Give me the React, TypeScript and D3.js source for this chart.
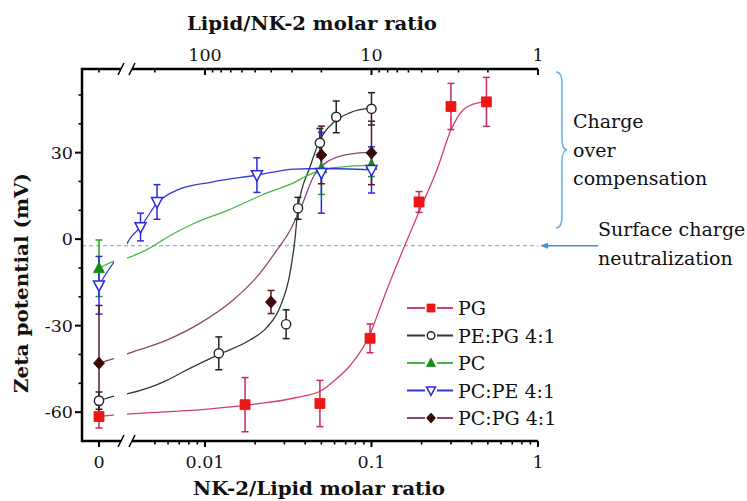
import React from "react";
import * as d3 from "d3";

// ---------- data ----------
const seriesNames = ["PG", "PE:PG 4:1", "PC", "PC:PE 4:1", "PC:PG 4:1"];

const pgX = [0, 0.0174, 0.049, 0.098, 0.193, 0.3, 0.49];
const pgY = [-61.5, -57.4, -57, -34.4, 12.9, 46, 47.6];
const pgErr = [4, 9.4, 8, 5, 3.6, 8, 8.5];

const pepgX = [0, 0.0121, 0.0307, 0.0362, 0.049, 0.0614, 0.1];
const pepgY = [-56, -39.6, -29.5, 10.7, 33.4, 42.4, 45.2];
const pepgErr = [3, 5.7, 5, 3.8, 5, 5.5, 5.6];

const pcX = [0, 0.05, 0.1];
const pcY = [-10.1, 24.5, 25.7];
const pcErr = [9.8, 9, 4];

const pcpeX = [0, 0.0041, 0.00515, 0.0205, 0.05, 0.1];
const pcpeY = [-16, 4.2, 12.9, 22.2, 23, 24];
const pcpeErr = [10, 4.8, 6, 6, 14, 8];

const pcpgX = [0, 0.0249, 0.05, 0.1];
const pcpgY = [-43, -21.8, 29.2, 29.9];
const pcpgErr = [20, 4, 10, 11];

// fitted guide curves (knots)
const pgFitX = [0, 0.0028, 0.0035, 0.01, 0.02, 0.035, 0.05, 0.06, 0.074, 0.098, 0.113, 0.135, 0.159, 0.193, 0.247, 0.304, 0.355, 0.43, 0.487];
const pgFitY = [-61.5, -61, -60.6, -59, -57.2, -55, -52.5, -49, -44, -33, -23.5, -12, -2, 9.5, 24, 38.6, 44.8, 47.2, 47.6];

const pepgFitX = [0, 0.0028, 0.0035, 0.0059, 0.0074, 0.0121, 0.0186, 0.0236, 0.0282, 0.0324, 0.0347, 0.0362, 0.0427, 0.049, 0.0587, 0.074, 0.1];
const pepgFitY = [-56, -54.5, -53.5, -49, -46, -40, -35, -30.5, -23.6, -11.8, 0, 10.7, 25, 34.4, 40.3, 43.8, 45.5];

const pcFitX = [0, 0.0028, 0.0035, 0.0049, 0.0055, 0.0087, 0.0137, 0.022, 0.0347, 0.041, 0.0505, 0.0647, 0.1];
const pcFitY = [-10.1, -7.8, -6.3, -2.4, -0.5, 5.6, 10, 15.3, 19.8, 22, 24, 25, 25.7];

const pcpeFitX = [0, 0.0028, 0.0031, 0.00355, 0.0041, 0.00515, 0.0069, 0.011, 0.0205, 0.0347, 0.051, 0.1];
const pcpeFitY = [-16, -8.5, -5.6, 0.3, 4.2, 12.5, 17.2, 19.8, 22.2, 24.3, 24.5, 24];

const pcpgFitX = [0, 0.0028, 0.0035, 0.0059, 0.0093, 0.0147, 0.0214, 0.027, 0.0324, 0.0383, 0.0451, 0.0548, 0.074, 0.1];
const pcpgFitY = [-43, -41.5, -39.5, -35, -29.2, -21.2, -11.8, -3.8, 3, 12, 22, 27, 29.5, 30.2];

const bottomMajor = [0.01, 0.1, 1];
const bottomMajorLabels = ["0.01", "0.1", "1"];
const bottomMinor = [0.005, 0.006, 0.007, 0.008, 0.009, 0.02, 0.03, 0.04, 0.05, 0.06, 0.07, 0.08, 0.09, 0.2, 0.3, 0.4, 0.5, 0.6, 0.7, 0.8, 0.9];
const topMajor = [100, 10, 1];
const topMajorLabels = ["100", "10", "1"];
const topMinor = [200, 90, 80, 70, 60, 50, 40, 30, 20, 9, 8, 7, 6, 5, 4, 3, 2];
const yMajor = [-60, -30, 0, 30];
const yMinor = [-50, -40, -20, -10, 10, 20, 40, 50];
const neutralLevel = -2.3;

// ---------- layout ----------
const W = 747, H = 501;
const left = 82, right = 538, top = 69, bottom = 441;
const zeroX = 99;
const gapL = 114, gapR = 127;

const xLog = d3.scaleLog().domain([0.01, 1]).range([205, right]);
const xTop = d3.scaleLog().domain([100, 1]).range([205, right]);
const y = d3.scaleLinear().domain([-70, 59]).range([bottom, top]);
const xp = (v: number) => (v === 0 ? zeroX : xLog(v));

const serif = "'DejaVu Serif', serif";

type Marker = "square" | "circle" | "triUp" | "triDown" | "diamond";

interface Series {
  name: string;
  xs: number[]; ys: number[]; err: number[];
  fx: number[]; fy: number[];
  line: string; errColor: string; marker: Marker; mFill: string; mStroke: string;
}

const series: Series[] = [
  { name: seriesNames[0], xs: pgX, ys: pgY, err: pgErr, fx: pgFitX, fy: pgFitY, line: "#d24068", errColor: "#c8285a", marker: "square", mFill: "#ee1515", mStroke: "#ee1515" },
  { name: seriesNames[1], xs: pepgX, ys: pepgY, err: pepgErr, fx: pepgFitX, fy: pepgFitY, line: "#2b3d34", errColor: "#222222", marker: "circle", mFill: "#ffffff", mStroke: "#222222" },
  { name: seriesNames[2], xs: pcX, ys: pcY, err: pcErr, fx: pcFitX, fy: pcFitY, line: "#45b845", errColor: "#22a022", marker: "triUp", mFill: "#158a15", mStroke: "#158a15" },
  { name: seriesNames[3], xs: pcpeX, ys: pcpeY, err: pcpeErr, fx: pcpeFitX, fy: pcpeFitY, line: "#3535e0", errColor: "#2a2ae0", marker: "triDown", mFill: "#ffffff", mStroke: "#2a2ae0" },
  { name: seriesNames[4], xs: pcpgX, ys: pcpgY, err: pcpgErr, fx: pcpgFitX, fy: pcpgFitY, line: "#8c4672", errColor: "#5a1a2c", marker: "diamond", mFill: "#3a0808", mStroke: "#3a0808" },
];

function markerPath(m: Marker, s: number): string {
  const h = s / 2;
  switch (m) {
    case "square": return `M${-h},${-h}H${h}V${h}H${-h}Z`;
    case "triUp": return `M0,${-h * 1.1}L${h},${h * 0.8}L${-h},${h * 0.8}Z`;
    case "triDown": return `M0,${h * 1.1}L${h},${-h * 0.8}L${-h},${-h * 0.8}Z`;
    case "diamond": return `M0,${-h * 1.1}L${h},0L0,${h * 1.1}L${-h},0Z`;
    default: return "";
  }
}

function MarkerShape({ m, x, yy, s, fill, stroke }: { m: Marker; x: number; yy: number; s: number; fill: string; stroke: string }) {
  if (m === "circle") {
    return <circle cx={x} cy={yy} r={s * 0.42} fill={fill} stroke={stroke} strokeWidth={1.4} />;
  }
  return <path d={markerPath(m, s)} transform={`translate(${x},${yy})`} fill={fill} stroke={stroke} strokeWidth={m === "triDown" ? 1.5 : 0.8} strokeLinejoin="miter" />;
}

export default function App() {
  const line = d3.line<[number, number]>().x((d) => xp(d[0])).y((d) => y(d[1])).curve(d3.curveMonotoneX);

  return (
    <svg width={W} height={H} style={{ display: "block", position: "absolute", left: 0, top: 0, background: "#fff" }} fontFamily={serif}>
      <defs>
        <clipPath id="gapclip">
          <rect x={left} y={0} width={gapL - left} height={H} />
          <rect x={gapR} y={0} width={W - gapR} height={H} />
        </clipPath>
      </defs>
      <rect x={0} y={0} width={W} height={H} fill="#fff" />

      {/* neutralization line */}
      <line x1={left} x2={right} y1={y(neutralLevel)} y2={y(neutralLevel)} stroke="#55aee6" strokeWidth={1} strokeDasharray="4,3" />

      {/* fit curves */}
      <g clipPath="url(#gapclip)" fill="none">
        {series.map((s) => (
          <path key={s.name} d={line(s.fx.map((v, i) => [v, s.fy[i]] as [number, number])) || ""} stroke={s.line} strokeWidth={1.3} />
        ))}
      </g>

      {/* error bars */}
      {series.map((s) => (
        <g key={s.name + "e"} stroke={s.errColor} strokeWidth={1.5}>
          {s.xs.map((v, i) => {
            const cx = xp(v);
            const y1 = y(s.ys[i] + s.err[i]);
            const y2 = y(s.ys[i] - s.err[i]);
            return (
              <g key={i}>
                <line x1={cx} x2={cx} y1={y1} y2={Math.min(y2, bottom)} />
                <line x1={cx - 3.5} x2={cx + 3.5} y1={y1} y2={y1} />
                {y2 < bottom && <line x1={cx - 3.5} x2={cx + 3.5} y1={y2} y2={y2} />}
              </g>
            );
          })}
        </g>
      ))}

      {/* markers */}
      {series.map((s) => (
        <g key={s.name + "m"}>
          {s.xs.map((v, i) => (
            <MarkerShape key={i} m={s.marker} x={xp(v)} yy={y(s.ys[i])} s={s.marker === "square" ? 10 : 11} fill={s.mFill} stroke={s.mStroke} />
          ))}
        </g>
      ))}

      {/* axes frame */}
      <g stroke="#000" fill="none">
        <line x1={left} x2={left} y1={top - 1.2} y2={bottom + 1.2} strokeWidth={2.5} />
        <line x1={left} x2={gapL + 7} y1={top} y2={top} strokeWidth={2.5} />
        <line x1={gapR + 5} x2={right} y1={top} y2={top} strokeWidth={2.5} />
        <line x1={left} x2={gapL + 7} y1={bottom} y2={bottom} strokeWidth={2.5} />
        <line x1={gapR + 5} x2={right} y1={bottom} y2={bottom} strokeWidth={2.5} />
        {/* break marks */}
        {[top, bottom].map((yy) => (
          <g key={yy} strokeWidth={1.6}>
            <line x1={gapL + 4} y1={yy + 6} x2={gapL + 10} y2={yy - 6} />
            <line x1={gapR + 2} y1={yy + 6} x2={gapR + 8} y2={yy - 6} />
          </g>
        ))}
        {/* bottom ticks */}
        <line x1={zeroX} x2={zeroX} y1={bottom} y2={bottom + 6} strokeWidth={2} />
        {bottomMajor.map((v) => (
          <line key={v} x1={xLog(v)} x2={xLog(v)} y1={bottom} y2={bottom + 6} strokeWidth={2} />
        ))}
        {bottomMinor.map((v) => (
          <line key={v} x1={xLog(v)} x2={xLog(v)} y1={bottom} y2={bottom + 3.5} strokeWidth={1.6} />
        ))}
        {/* top ticks */}
        <line x1={zeroX} x2={zeroX} y1={top} y2={top + 3.5} strokeWidth={1.6} />
        {topMajor.map((v) => (
          <line key={v} x1={xTop(v)} x2={xTop(v)} y1={top} y2={top + 6} strokeWidth={2} />
        ))}
        {topMinor.map((v) => (
          <line key={v} x1={xTop(v)} x2={xTop(v)} y1={top} y2={top + 3.5} strokeWidth={1.6} />
        ))}
        {/* y ticks */}
        {yMajor.map((v) => (
          <line key={v} x1={left - 7} x2={left} y1={y(v)} y2={y(v)} strokeWidth={2} />
        ))}
        {yMinor.map((v) => (
          <line key={v} x1={left - 3.5} x2={left} y1={y(v)} y2={y(v)} strokeWidth={1.6} />
        ))}
      </g>

      {/* tick labels */}
      <g fontSize={17.5} fill="#111" textAnchor="middle">
        <text x={zeroX} y={468}>0</text>
        {bottomMajor.map((v, i) => (
          <text key={v} x={xLog(v)} y={468}>{bottomMajorLabels[i]}</text>
        ))}
        {topMajor.map((v, i) => (
          <text key={v} x={xTop(v)} y={61}>{topMajorLabels[i]}</text>
        ))}
        {yMajor.map((v) => (
          <text key={v} x={73} y={y(v) + 6} textAnchor="end">{v === 0 ? "0" : String(v)}</text>
        ))}
      </g>

      {/* axis titles */}
      <g fontWeight="bold" fontSize={18.5} fill="#111" textAnchor="middle">
        <text x={312} y={30} textLength={250} lengthAdjust="spacingAndGlyphs">Lipid/NK-2 molar ratio</text>
        <text x={319} y={495} textLength={252} lengthAdjust="spacingAndGlyphs">NK-2/Lipid molar ratio</text>
        <text transform={`translate(28,283) rotate(-90)`} textLength={220} lengthAdjust="spacingAndGlyphs">Zeta potential (mV)</text>
      </g>

      {/* annotations */}
      <path d="M556,72 Q562,72 562,84 L562,138 Q562,150 567,150 Q562,150 562,162 L562,216 Q562,228 556,228" fill="none" stroke="#72b4ea" strokeWidth={1.6} />
      <g fontSize={19} fill="#111">
        <text x={573} y={128}>Charge</text>
        <text x={573} y={157}>over</text>
        <text x={573} y={185}>compensation</text>
        <text x={598} y={236}>Surface charge</text>
        <text x={598} y={265}>neutralization</text>
      </g>
      <line x1={598} x2={546} y1={y(neutralLevel)} y2={y(neutralLevel)} stroke="#3d8fe0" strokeWidth={1.3} />
      <path d={`M540,${y(neutralLevel)} L548,${y(neutralLevel) - 3} L548,${y(neutralLevel) + 3} Z`} fill="#3d8fe0" />

      {/* legend */}
      {series.map((s, i) => {
        const ly = 308 + i * 27.5;
        return (
          <g key={s.name + "l"}>
            <line x1={407} x2={453} y1={ly} y2={ly} stroke={s.line} strokeWidth={1.8} />
            <rect x={425} y={ly - 5} width={12} height={10} fill="#fff" />
            <MarkerShape m={s.marker} x={431} yy={ly} s={s.marker === "square" ? 8 : 9} fill={s.mFill} stroke={s.mStroke} />
            <text x={458} y={ly + 7} fontSize={19} fill="#111">{s.name}</text>
          </g>
        );
      })}
    </svg>
  );
}
